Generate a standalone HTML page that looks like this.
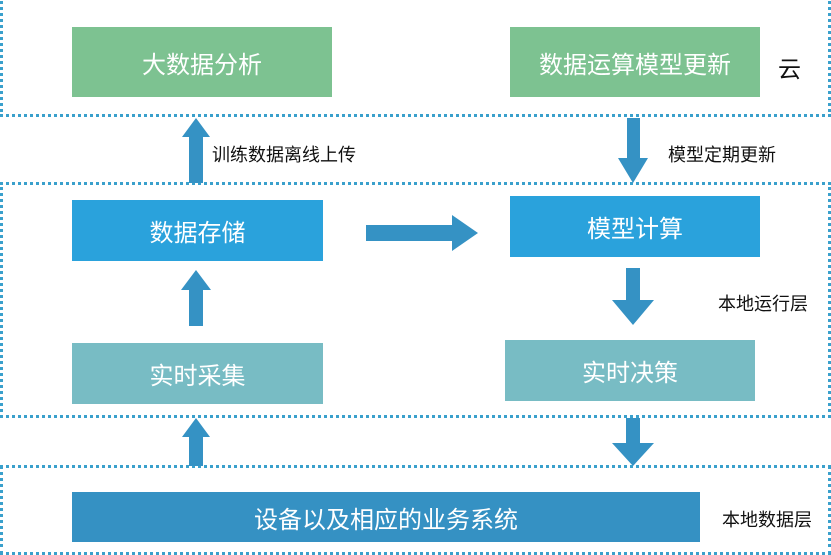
<!DOCTYPE html>
<html><head><meta charset="utf-8"><style>
body{margin:0;width:831px;height:542px;background:#fff;position:relative;overflow:hidden;font-family:"Liberation Sans","Noto Sans CJK SC",sans-serif}
.d{position:absolute;border:3px dotted #3aa0cc;box-sizing:border-box}
.b{position:absolute;color:#fff;font-size:24px;display:flex;align-items:center;justify-content:center}
.g{background:#7dc291}.bl{background:#2aa2dc}.t{background:#78bcc4}
.l{position:absolute;font-size:18px;color:#111;white-space:nowrap}
svg{position:absolute;left:0;top:0}
</style></head><body>
<div class="d" style="left:0;top:-10px;width:831px;height:127px"></div>
<div class="d" style="left:0;top:182px;width:831px;height:236px"></div>
<div class="d" style="left:0;top:465px;width:831px;height:90px"></div>
<div class="b g" style="left:72px;top:27px;width:260px;height:70px">大数据分析</div>
<div class="b g" style="left:510px;top:27px;width:250px;height:70px">数据运算模型更新</div>
<div class="b bl" style="left:72px;top:200px;width:251px;height:61px">数据存储</div>
<div class="b bl" style="left:510px;top:196px;width:250px;height:61px">模型计算</div>
<div class="b t" style="left:72px;top:343px;width:251px;height:61px">实时采集</div>
<div class="b t" style="left:505px;top:340px;width:250px;height:61px">实时决策</div>
<div class="b" style="left:72px;top:492px;width:628px;height:50px;background:#3591c3">设备以及相应的业务系统</div>
<svg width="831" height="542" fill="#3592c4">
<polygon points="196,118 210,137 203,137 203,183 189,183 189,137 182,137"/>
<polygon points="627,118 640,118 640,158 648,158 633,183 618,158 627,158"/>
<polygon points="196,270 211,290 203,290 203,326 189,326 189,290 181,290"/>
<polygon points="366,225 452,225 452,215 478,233 452,251 452,241 366,241"/>
<polygon points="626,268 640,268 640,300 654,300 633,325 612,300 626,300"/>
<polygon points="196,418 210,437 203,437 203,466 189,466 189,437 182,437"/>
<polygon points="626,418 640,418 640,443 654,443 633,466 612,443 626,443"/>
</svg>
<div class="l" style="left:212px;top:141px">训练数据离线上传</div>
<div class="l" style="left:668px;top:141px">模型定期更新</div>
<div class="l" style="left:778px;top:50px;font-size:23px">云</div>
<div class="l" style="left:718px;top:290px">本地运行层</div>
<div class="l" style="left:722px;top:506px">本地数据层</div>
</body></html>
